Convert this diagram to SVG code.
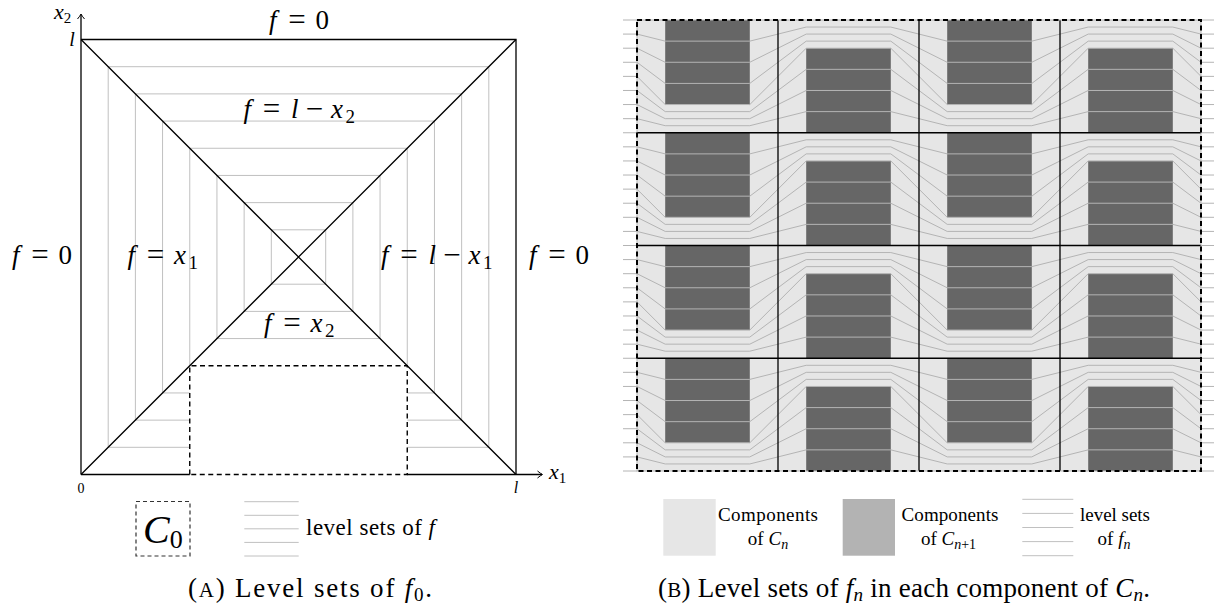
<svg xmlns="http://www.w3.org/2000/svg" xmlns:xlink="http://www.w3.org/1999/xlink" width="1214" height="615" viewBox="0 0 1214 615" font-family="'Liberation Serif', 'DejaVu Serif', serif">
<style>
.g{stroke:#c0c0c0;stroke-width:1;fill:none}
.k{stroke:#000;stroke-width:1.3;fill:none}
.kd{stroke:#000;stroke-width:1.4;fill:none;stroke-dasharray:5 3.5}
.lv{stroke:#b4b4b4;stroke-width:1;fill:none}
.div{stroke:#000;stroke-width:1.3;fill:none}
.t{font-family:"Liberation Serif","DejaVu Serif",serif;fill:#000}
.i{font-style:italic}
.light{fill:#e6e6e6}
.dark{fill:#666666}
.mid{fill:#b3b3b3}
.op{font-size:31px}
.sub{font-size:19px}
</style>
<defs>
<marker id="arr" viewBox="-6 -5 8 10" refX="0" refY="0" markerWidth="8" markerHeight="10" markerUnits="userSpaceOnUse" orient="auto">
<path d="M-4.5,-3.5 Q-1.5,-1 0.5,0 Q-1.5,1 -4.5,3.5" fill="none" stroke="#000" stroke-width="1"/>
</marker>
<g id="cellA">
<rect class="light" x="0" y="0" width="141" height="112.75"/>
<rect class="dark" x="28.2" y="0" width="84.6" height="84.56"/>
<polyline class="lv" points="0,14.09 28.2,21.14 112.8,21.14 141,14.09"/>
<polyline class="lv" points="0,28.19 28.2,42.28 112.8,42.28 141,28.19"/>
<polyline class="lv" points="0,42.28 28.2,63.42 112.8,63.42 141,42.28"/>
<polyline class="lv" points="0,56.38 28.2,84.56 112.8,84.56 141,56.38"/>
<polyline class="lv" points="0,70.47 28.2,91.61 112.8,91.61 141,70.47"/>
<polyline class="lv" points="0,84.56 28.2,98.66 112.8,98.66 141,84.56"/>
<polyline class="lv" points="0,98.66 28.2,105.70 112.8,105.70 141,98.66"/>
</g>
<g id="cellB">
<rect class="light" x="0" y="0" width="141" height="112.75"/>
<rect class="dark" x="28.2" y="28.19" width="84.6" height="84.56"/>
<polyline class="lv" points="0,14.09 28.2,7.05 112.8,7.05 141,14.09"/>
<polyline class="lv" points="0,28.19 28.2,14.09 112.8,14.09 141,28.19"/>
<polyline class="lv" points="0,42.28 28.2,21.14 112.8,21.14 141,42.28"/>
<polyline class="lv" points="0,56.38 28.2,28.19 112.8,28.19 141,56.38"/>
<polyline class="lv" points="0,70.47 28.2,49.33 112.8,49.33 141,70.47"/>
<polyline class="lv" points="0,84.56 28.2,70.47 112.8,70.47 141,84.56"/>
<polyline class="lv" points="0,98.66 28.2,91.61 112.8,91.61 141,98.66"/>
</g>
</defs>

<!-- Panel A -->
<g id="levelsets-f0">
<path class="g" d="M189.75,447.31 H108.19 V66.69 H488.81 V447.31 H407.25"/>
<path class="g" d="M189.75,420.13 H135.38 V93.88 H461.63 V420.13 H407.25"/>
<path class="g" d="M189.75,392.94 H162.56 V121.06 H434.44 V392.94 H407.25"/>
<path class="g" d="M189.75,365.75 V148.25 H407.25 V365.75"/>
<rect class="g" x="216.94" y="175.44" width="163.12" height="163.12"/>
<rect class="g" x="244.13" y="202.63" width="108.75" height="108.75"/>
<rect class="g" x="271.31" y="229.81" width="54.38" height="54.38"/>
</g>
<g id="square">
<path class="k" d="M81,39.5 H516 V474.5"/>
<path class="k" stroke-width="1.1" d="M81,39.5 L516,474.5 M516,39.5 L81,474.5"/>
</g>
<g id="axes">
<path class="k" d="M81,474.5 V14.5" marker-end="url(#arr)"/>
<path class="k" d="M81,474.5 H189.75"/>
<path class="k" d="M407.25,474.5 H542" marker-end="url(#arr)"/>
</g>
<g id="C0-box">
<path class="kd" d="M189.75,474.5 V365.75 H407.25 V474.5 H189.75"/>
</g>
<g id="labels-A" class="t" font-size="27">
<text x="54" y="19" font-size="22"><tspan class="i">x</tspan><tspan font-size="15" dy="4">2</tspan></text>
<text x="72" y="46" font-size="20" class="i" text-anchor="middle">l</text>
<text x="81" y="493" font-size="14" text-anchor="middle">0</text>
<text x="516" y="493" font-size="16" class="i" text-anchor="middle">l</text>
<text x="549" y="479" font-size="22"><tspan class="i">x</tspan><tspan font-size="15" dy="4">1</tspan></text>
<!-- f = 0 (top) X=266 -->
<text y="29"><tspan class="i" x="269">f</tspan><tspan class="op" x="288.3" dy="1">=</tspan><tspan x="315.5" dy="-1">0</tspan></text>
<!-- f = l - x2 X=240.5 -->
<text y="118"><tspan class="i" x="243.5">f</tspan><tspan class="op" x="262.8" dy="1">=</tspan><tspan class="i" x="291" dy="-1">l</tspan><tspan class="op" x="305.8" dy="1">−</tspan><tspan class="i" x="331" dy="-1">x</tspan><tspan class="sub" x="345.5" dy="5">2</tspan></text>
<!-- f = 0 left X=9 -->
<text y="264"><tspan class="i" x="12">f</tspan><tspan class="op" x="31.3" dy="1">=</tspan><tspan x="58.5" dy="-1">0</tspan></text>
<!-- f = x1 X=124.5 -->
<text y="264"><tspan class="i" x="127.5">f</tspan><tspan class="op" x="146.8" dy="1">=</tspan><tspan class="i" x="174" dy="-1">x</tspan><tspan class="sub" x="188.5" dy="5">1</tspan></text>
<!-- f = l - x1 X=378 -->
<text y="264"><tspan class="i" x="381">f</tspan><tspan class="op" x="400.3" dy="1">=</tspan><tspan class="i" x="428.5" dy="-1">l</tspan><tspan class="op" x="443.3" dy="1">−</tspan><tspan class="i" x="468.5" dy="-1">x</tspan><tspan class="sub" x="483" dy="5">1</tspan></text>
<!-- f = 0 right X=526 -->
<text y="264"><tspan class="i" x="529">f</tspan><tspan class="op" x="548.3" dy="1">=</tspan><tspan x="575.5" dy="-1">0</tspan></text>
<!-- f = x2 X=261 -->
<text y="332"><tspan class="i" x="264">f</tspan><tspan class="op" x="283.3" dy="1">=</tspan><tspan class="i" x="310.5" dy="-1">x</tspan><tspan class="sub" x="325" dy="5">2</tspan></text>
</g>
<g id="legend-A">
<rect x="136" y="501.5" width="54" height="54.5" fill="none" stroke="#333" stroke-width="1.2" stroke-dasharray="4 3"/>
<text class="t" x="143" y="543" font-size="40"><tspan class="i">C</tspan><tspan font-size="26" dy="5">0</tspan></text>
<path class="g" d="M244.3,501.7 H298.7 M244.3,515.3 H298.7 M244.3,528.8 H298.7 M244.3,542.4 H298.7 M244.3,556 H298.7"/>
<text class="t" x="306" y="535" font-size="23" textLength="129">level sets of <tspan class="i">f</tspan></text>
</g>
<text id="caption-A" class="t" x="188" y="597" font-size="27" textLength="244">(<tspan font-size="21">A</tspan>) Level sets of <tspan class="i">f</tspan><tspan font-size="19" dy="4">0</tspan><tspan dy="-4">.</tspan></text>

<!-- Panel B -->
<g id="ticks">
<path class="lv" d="M623,20H637M623,34.09H637M623,48.19H637M623,62.28H637M623,76.38H637M623,90.47H637M623,104.56H637M623,118.66H637M623,132.75H637M623,146.84H637M623,160.94H637M623,175.03H637M623,189.13H637M623,203.22H637M623,217.31H637M623,231.41H637M623,245.5H637M623,259.59H637M623,273.69H637M623,287.78H637M623,301.88H637M623,315.97H637M623,330.06H637M623,344.16H637M623,358.25H637M623,372.34H637M623,386.44H637M623,400.53H637M623,414.63H637M623,428.72H637M623,442.81H637M623,456.91H637M623,471H637"/>
<path class="lv" d="M1201,20H1214M1201,34.09H1214M1201,48.19H1214M1201,62.28H1214M1201,76.38H1214M1201,90.47H1214M1201,104.56H1214M1201,118.66H1214M1201,132.75H1214M1201,146.84H1214M1201,160.94H1214M1201,175.03H1214M1201,189.13H1214M1201,203.22H1214M1201,217.31H1214M1201,231.41H1214M1201,245.5H1214M1201,259.59H1214M1201,273.69H1214M1201,287.78H1214M1201,301.88H1214M1201,315.97H1214M1201,330.06H1214M1201,344.16H1214M1201,358.25H1214M1201,372.34H1214M1201,386.44H1214M1201,400.53H1214M1201,414.63H1214M1201,428.72H1214M1201,442.81H1214M1201,456.91H1214M1201,471H1214"/>
</g>
<g id="cells">
<use xlink:href="#cellA" x="637" y="20"/><use xlink:href="#cellB" x="778" y="20"/><use xlink:href="#cellA" x="919" y="20"/><use xlink:href="#cellB" x="1060" y="20"/>
<use xlink:href="#cellA" x="637" y="132.75"/><use xlink:href="#cellB" x="778" y="132.75"/><use xlink:href="#cellA" x="919" y="132.75"/><use xlink:href="#cellB" x="1060" y="132.75"/>
<use xlink:href="#cellA" x="637" y="245.5"/><use xlink:href="#cellB" x="778" y="245.5"/><use xlink:href="#cellA" x="919" y="245.5"/><use xlink:href="#cellB" x="1060" y="245.5"/>
<use xlink:href="#cellA" x="637" y="358.25"/><use xlink:href="#cellB" x="778" y="358.25"/><use xlink:href="#cellA" x="919" y="358.25"/><use xlink:href="#cellB" x="1060" y="358.25"/>
</g>
<g id="grid">
<path class="div" d="M778,20V471M919,20V471M1060,20V471M637,132.75H1201M637,245.5H1201M637,358.25H1201"/>
<rect x="637" y="20" width="564" height="451" fill="none" stroke="#b4b4b4" stroke-width="1"/>
<rect x="637" y="20" width="564" height="451" fill="none" stroke="#000" stroke-width="2" stroke-dasharray="5 3.5"/>
</g>
<g id="legend-B">
<rect class="light" x="663.3" y="499" width="52.4" height="56.7"/>
<text class="t" x="768" y="521" font-size="19" text-anchor="middle" textLength="100">Components</text>
<text class="t" x="768" y="545" font-size="19" text-anchor="middle">of <tspan class="i">C</tspan><tspan class="i" font-size="14" dy="4">n</tspan></text>
<rect class="mid" x="842.7" y="499" width="52.3" height="56.7"/>
<text class="t" x="950" y="521" font-size="19" text-anchor="middle" textLength="97">Components</text>
<text class="t" x="948.5" y="545" font-size="19" text-anchor="middle">of <tspan class="i">C</tspan><tspan font-size="14" dy="4"><tspan class="i">n</tspan>+1</tspan></text>
<path class="g" d="M1022.3,499.3H1073.3M1022.3,513.4H1073.3M1022.3,527.5H1073.3M1022.3,541.6H1073.3M1022.3,555.7H1073.3"/>
<text class="t" x="1115" y="521" font-size="19" text-anchor="middle" textLength="70">level sets</text>
<text class="t" x="1114" y="545" font-size="19" text-anchor="middle">of <tspan class="i">f</tspan><tspan class="i" font-size="14" dy="4">n</tspan></text>
</g>
<text id="caption-B" class="t" x="658" y="597" font-size="27" textLength="492">(<tspan font-size="21">B</tspan>) Level sets of <tspan class="i">f</tspan><tspan class="i" font-size="19" dy="4">n</tspan><tspan dy="-4"> in each component of </tspan><tspan class="i">C</tspan><tspan class="i" font-size="19" dy="4">n</tspan><tspan dy="-4">.</tspan></text>
</svg>
